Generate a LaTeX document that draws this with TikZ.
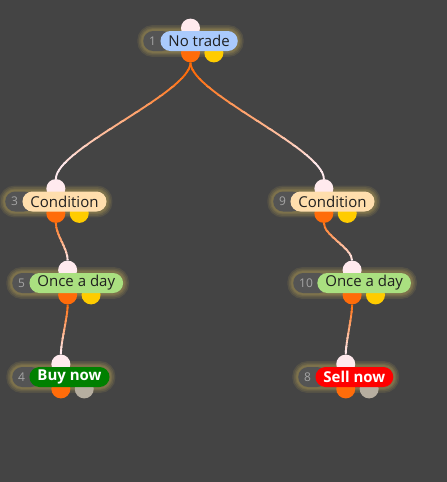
\documentclass[tikz,border=0pt]{standalone}
\usepackage{fontspec}
\setmainfont{Open Sans}
\usepackage{tikz}
\usetikzlibrary{positioning,fit,calc}
\definecolor{canvas}{RGB}{68,68,68}
\definecolor{badgebg}{RGB}{84,84,84}
\definecolor{badgetx}{RGB}{165,165,165}
\definecolor{cblue}{RGB}{170,202,252}
\definecolor{cpeach}{RGB}{255,222,173}
\definecolor{cgreen}{RGB}{170,224,128}
\definecolor{cbuy}{RGB}{0,128,0}
\definecolor{csell}{RGB}{255,0,0}
\definecolor{dotin}{RGB}{255,234,238}
\definecolor{dotout}{RGB}{255,108,10}
\definecolor{dotyes}{RGB}{255,204,0}
\definecolor{dotend}{RGB}{182,174,160}
\definecolor{glowc}{RGB}{255,220,100}
\pgfdeclarelayer{glow}
\pgfdeclarelayer{links}
\pgfdeclarelayer{dots}
\pgfsetlayers{glow,links,dots,main}

\begin{document}
\begin{tikzpicture}[x=1pt,y=-1pt,
  badge/.style={fill=badgebg,text=badgetx,rounded corners=10pt,
                minimum height=20pt,inner xsep=6pt,inner ysep=0pt,
                font=\fontsize{12}{14}\selectfont,
                execute at end node={\hspace{10pt}}},
  pill/.style={rounded corners=10pt,minimum height=20pt,inner xsep=8pt,
               inner ysep=0pt,text=black!88,font=\fontsize{15}{17}\selectfont},
  act/.style={pill,text=white,font=\fontsize{15}{17}\selectfont\bfseries},
  group/.style={inner sep=0pt},
  glow/.style={draw=glowc,rounded corners=10pt,line width=#1,opacity=0.09},
  dot/.style={circle,inner sep=0pt,minimum size=19pt},
  link/.style={line width=1.9pt}
]
\useasboundingbox (0,0) rectangle (447,482);

\node[badge,anchor=west] (id1) at (143,41) {1};
\node[pill,fill=cblue,right=-12pt of id1] (notrade) {No trade};
\node[badge,anchor=west] (id3) at (5,201.5) {3};
\node[pill,fill=cpeach,right=-12pt of id3] (condl) {Condition};
\node[badge,anchor=west] (id5) at (12,283) {5};
\node[pill,fill=cgreen,right=-12pt of id5] (oncel) {Once a day};
\node[badge,anchor=west] (id4) at (12,377) {4};
\node[act,fill=cbuy,right=-12pt of id4] (buy) {Buy now};
\node[badge,anchor=west] (id9) at (273,201.5) {9};
\node[pill,fill=cpeach,right=-12pt of id9] (condr) {Condition};
\node[badge,anchor=west] (id10) at (293,283) {10};
\node[pill,fill=cgreen,right=-12pt of id10] (oncer) {Once a day};
\node[badge,anchor=west] (id8) at (298,377) {8};
\node[act,fill=csell,right=-12pt of id8] (sell) {Sell now};

\node[group,fit=(id1)(notrade)] (nd1) {};
\node[group,fit=(id3)(condl)] (nd3) {};
\node[group,fit=(id5)(oncel)] (nd5) {};
\node[group,fit=(id4)(buy)] (nd4) {};
\node[group,fit=(id9)(condr)] (nd9) {};
\node[group,fit=(id10)(oncer)] (nd10) {};
\node[group,fit=(id8)(sell)] (nd8) {};

\begin{pgfonlayer}{dots}
\foreach \n in {1,3,5,4,9,10,8}{
  \node[dot,fill=dotin] (in\n) at ([yshift=2.5pt]nd\n.north) {};
  \node[dot,fill=dotout] (out\n) at ([yshift=-1.5pt]nd\n.south) {};
}
\foreach \n in {1,3,5,9,10}
  \node[dot,fill=dotyes,right=4pt of out\n] (yes\n) {};
\foreach \n in {4,8}
  \node[dot,fill=dotend,right=4pt of out\n] (end\n) {};
\end{pgfonlayer}

\begin{pgfonlayer}{glow}
\fill[canvas] (0,0) rectangle (447,482);
\foreach \n in {1,3,5,4,9,10,8}
  \foreach \w in {11,8,5,3}
    \draw[glow=\w pt] (nd\n.south west) rectangle (nd\n.north east);
\end{pgfonlayer}

\begin{pgfonlayer}{links}
\foreach \s/\t/\k in {out1/in3/40,out1/in9/40,out3/in5/22,
                      out5/in4/22,out9/in10/22,out10/in8/22}
  \foreach \i in {0,...,15}{
    \pgfmathsetmacro\mix{max(0,min(100,(0.85-(\i+0.5)/16)/0.7*100))}
    \begin{scope}
      \clip ($(\s)!{\i/16}!(\t)+(-160,-0.3)$) rectangle ($(\s)!{(\i+1)/16}!(\t)+(160,0.3)$);
      \draw[link,draw=dotout!\mix!dotin] (\s) .. controls +(0,\k) and +(0,-\k) .. (\t);
    \end{scope}
  }
\end{pgfonlayer}
\end{tikzpicture}
\end{document}
